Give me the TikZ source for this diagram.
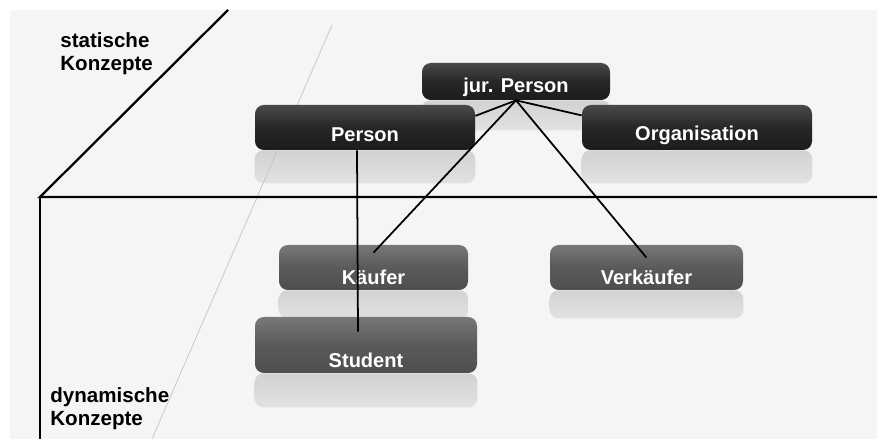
\documentclass[tikz,border=0pt]{standalone}
\usepackage{fontspec}
\setmainfont{Liberation Sans}

\pgfdeclarelayer{background}
\pgfsetlayers{background,main}

\definecolor{paper}{HTML}{F5F5F5}
\definecolor{reflgray}{HTML}{D2D2D2}
\definecolor{guide}{HTML}{C4C4C4}
\definecolor{darkTop}{HTML}{4A4A4A}
\definecolor{darkMid}{HTML}{262626}
\definecolor{darkBot}{HTML}{1C1C1C}
\definecolor{midTop}{HTML}{787878}
\definecolor{midMid}{HTML}{5A5A5A}
\definecolor{midBot}{HTML}{4E4E4E}

\tikzset{
    concept/.style={rounded corners=5pt, inner sep=0pt, minimum height=0.9cm,
        text=white, text depth=0pt, font=\bfseries\fontsize{11.4}{13}\selectfont},
    static/.style={concept, top color=darkTop, bottom color=darkBot, middle color=darkMid},
    dynamic/.style={concept, top color=midTop, bottom color=midBot, middle color=midMid},
    link/.style={line width=1pt},
    frame/.style={line width=1.3pt},
    corner/.style={anchor=north west, inner sep=0pt, align=left,
        font=\bfseries\fontsize{11.7}{13.1}\selectfont},
}
% mirrored smear under a box: node name, depth
\newcommand\Reflection[2]{%
    \shade[top color=reflgray, bottom color=reflgray!55!paper, rounded corners=5pt]
        (#1.south west) rectangle ([yshift=-#2]#1.south east);
}

\begin{document}
\begin{tikzpicture}
    \useasboundingbox (-0.8,-4.84) rectangle (16.74,3.94);

    % static level
    \node[static, minimum width=3.76cm, minimum height=0.74cm, text height=12pt] (JurPerson) at (9.52,2.31) {jur. Person};
    \node[static, minimum width=4.4cm, text height=15.9pt] (Person) at (6.5,1.39) {Person};
    \node[static, minimum width=4.6cm, text height=14.8pt] (Organisation) at (13.14,1.39) {Organisation};

    % dynamic level
    \node[dynamic, minimum width=3.78cm, text height=19.3pt] (Kaeufer) at (6.67,-1.41) {Käufer};
    \node[dynamic, minimum width=3.86cm, text height=19.3pt] (Verkaeufer) at (12.13,-1.41) {Verkäufer};
    \node[dynamic, minimum width=4.44cm, minimum height=1.12cm, text height=25.6pt] (Student) at (6.52,-2.96) {Student};

    % plane between the two levels
    \coordinate (Corner) at (0,0);
    \draw[frame] (3.76,3.74) -- (Corner) -- (16.74,0);
    \draw[frame] (Corner) -- (0,-4.84);
    \node[corner] (StaticLabel) at (0.4,3.3) {statische\\Konzepte};
    \node[corner] (DynamicLabel) at (0.2,-3.8) {dynamische\\Konzepte};

    % generalisation links
    \draw[link] (JurPerson.south) -- (Person.6);
    \draw[link] (JurPerson.south) -- (Organisation.174);
    \draw[link] (JurPerson.south) -- ([yshift=-0.16cm]Kaeufer.north);
    \draw[link] (JurPerson.south) -- ([yshift=-0.26cm]Verkaeufer.north);
    \draw[link] ([xshift=-0.16cm]Person.south) -- ([xshift=-0.16cm,yshift=-0.3cm]Student.north);

    \begin{pgfonlayer}{background}
        \fill[white] (-0.8,-4.84) rectangle (16.74,3.94);
        \fill[paper] (-0.6,-4.84) rectangle (16.74,3.74);
        \Reflection{JurPerson}{0.6cm}
        \Reflection{Person}{0.66cm}
        \Reflection{Organisation}{0.66cm}
        \Reflection{Kaeufer}{0.56cm}
        \Reflection{Verkaeufer}{0.56cm}
        \Reflection{Student}{0.68cm}
        % faint perspective guide
        \draw[guide, thin] (5.84,3.44) -- (2.24,-4.84);
    \end{pgfonlayer}
\end{tikzpicture}
\end{document}
